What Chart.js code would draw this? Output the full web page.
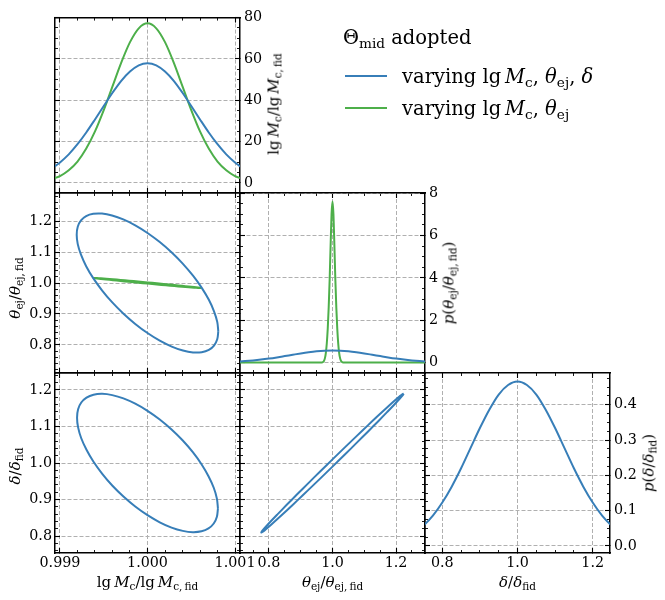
<!DOCTYPE html>
<html><head><meta charset="utf-8">
<script src="https://cdn.jsdelivr.net/npm/chart.js@4.4.0/dist/chart.umd.min.js"></script>
<style>
body{margin:0;background:#fff;}
#wrap{position:relative;width:665px;height:600px;overflow:hidden;font-family:'DejaVu Serif';color:#000;}
canvas{position:absolute;left:0;top:0;}
.t{position:absolute;white-space:nowrap;font-size:15px;line-height:1;transform:translate(-50%,-50%);}
.r{transform:translate(-50%,-50%) rotate(-90deg);}
.lg{position:absolute;white-space:nowrap;font-size:19.5px;line-height:1;transform:translateY(-50%);}
.sw{position:absolute;width:42px;height:2px;}
i{font-style:italic;}
sub{font-size:70%;vertical-align:-0.3em;line-height:0;}
</style></head>
<body>
<div id="wrap">
<canvas id="c0" width="665" height="600"></canvas>
<canvas id="c1" width="665" height="600"></canvas>
<canvas id="c2" width="665" height="600"></canvas>
<canvas id="c3" width="665" height="600"></canvas>
<canvas id="c4" width="665" height="600"></canvas>
<canvas id="c5" width="665" height="600"></canvas>

<div class="t r" style="left:274px;top:104px">lg&#8201;<i>M</i><sub>c</sub>/lg&#8201;<i>M</i><sub>c,&#8201;fid</sub></div>
<div class="t r" style="left:14.5px;top:288px"><i>θ</i><sub>ej</sub>/<i>θ</i><sub>ej,&#8201;fid</sub></div>
<div class="t r" style="left:449px;top:283px"><i>p</i>(<i>θ</i><sub>ej</sub>/<i>θ</i><sub>ej,&#8201;fid</sub>)</div>
<div class="t r" style="left:14.5px;top:466px"><i>δ</i>/<i>δ</i><sub>fid</sub></div>
<div class="t r" style="left:649px;top:463px"><i>p</i>(<i>δ</i>/<i>δ</i><sub>fid</sub>)</div>
<div class="t" style="left:147.5px;top:582px">lg&#8201;<i>M</i><sub>c</sub>/lg&#8201;<i>M</i><sub>c,&#8201;fid</sub></div>
<div class="t" style="left:332.5px;top:582px"><i>θ</i><sub>ej</sub>/<i>θ</i><sub>ej,&#8201;fid</sub></div>
<div class="t" style="left:517.5px;top:582px"><i>δ</i>/<i>δ</i><sub>fid</sub></div>

<div class="lg" style="left:343px;top:37.5px">Θ<sub>mid</sub> adopted</div>
<div class="sw" style="left:345px;top:75px;background:#377eb8"></div>
<div class="lg" style="left:402px;top:76.5px">varying lg&#8201;<i>M</i><sub>c</sub>, <i>θ</i><sub>ej</sub>, <i>δ</i></div>
<div class="sw" style="left:345px;top:107.3px;background:#4daf4a"></div>
<div class="lg" style="left:402px;top:108.8px">varying lg&#8201;<i>M</i><sub>c</sub>, <i>θ</i><sub>ej</sub></div>
</div>
<script>
// ---------------- data ----------------
// 1D marginal of lg Mc / lg Mc,fid
const mcGrid = [0.9989,0.9990,0.9991,0.9992,0.9993,0.9994,0.9995,0.9996,0.9997,0.9998,0.9999,1.0000,1.0001,1.0002,1.0003,1.0004,1.0005,1.0006,1.0007,1.0008,1.0009,1.0010,1.0011];
const mcPdfThree = [6.8,9.9,13.8,18.7,24.4,30.7,37.2,43.6,49.4,53.9,56.9,57.9,56.9,53.9,49.4,43.6,37.2,30.7,24.4,18.7,13.8,9.9,6.8];
const mcPdfTwo = [1.7,3.3,6.1,10.3,16.6,24.9,35.2,46.7,58.2,68.1,74.8,77.2,74.8,68.1,58.2,46.7,35.2,24.9,16.6,10.3,6.1,3.3,1.7];

// 1D marginal of theta_ej / theta_ej,fid
const thGrid = [0.700,0.725,0.750,0.775,0.800,0.825,0.850,0.875,0.900,0.925,0.950,0.975,1.000,1.025,1.050,1.075,1.100,1.125,1.150,1.175,1.200,1.225,1.250,1.275,1.300];
const thPdfThree = [0.048,0.072,0.103,0.142,0.190,0.246,0.308,0.371,0.433,0.488,0.532,0.560,0.570,0.560,0.532,0.488,0.433,0.371,0.308,0.246,0.190,0.142,0.103,0.072,0.048];
const thGridTwo = [0.700,0.960,0.965,0.970,0.973,0.976,0.979,0.982,0.985,0.988,0.991,0.994,0.997,1.000,1.003,1.006,1.009,1.012,1.015,1.018,1.021,1.024,1.027,1.030,1.035,1.040,1.300];
const thPdfTwo = [0,0,0.005,0.03,0.08,0.2,0.45,0.9,1.6,2.6,3.9,5.5,7.0,7.6,7.0,5.5,3.9,2.6,1.6,0.9,0.45,0.2,0.08,0.03,0.005,0,0];

// 1D marginal of delta / delta_fid
const dGrid = [0.725,0.750,0.775,0.800,0.825,0.850,0.875,0.900,0.925,0.950,0.975,1.000,1.025,1.050,1.075,1.100,1.125,1.150,1.175,1.200,1.225,1.250,1.275];
const dPdfThree = [0.037,0.058,0.086,0.123,0.168,0.220,0.277,0.334,0.386,0.429,0.456,0.466,0.456,0.429,0.386,0.334,0.277,0.220,0.168,0.123,0.086,0.058,0.037];

// contour: lg Mc vs theta (three parameters)
const e1Mc = [1.000809,1.000797,1.000760,1.000701,1.000620,1.000520,1.000405,1.000277,1.000140,1.000000,0.999860,0.999723,0.999595,0.999480,0.999380,0.999299,0.999240,0.999203,0.999191,0.999203,0.999240,0.999299,0.999380,0.999480,0.999595,0.999723,0.999860,1.000000,1.000140,1.000277,1.000405,1.000520,1.000620,1.000701,1.000760,1.000797];
const e1Th = [0.8437,0.8180,0.7978,0.7837,0.7762,0.7755,0.7817,0.7945,0.8135,0.8382,0.8677,0.9014,0.9380,0.9765,1.0157,1.0544,1.0915,1.1258,1.1563,1.1820,1.2022,1.2163,1.2238,1.2245,1.2183,1.2055,1.1865,1.1618,1.1323,1.0986,1.0620,1.0235,0.9843,0.9456,0.9085,0.8742];
// contour: lg Mc vs theta (two parameters)
const e4Mc = [1.000615,1.000606,1.000578,1.000533,1.000471,1.000395,1.000308,1.000210,1.000107,1.000000,0.999893,0.999790,0.999692,0.999605,0.999529,0.999467,0.999422,0.999394,0.999385,0.999394,0.999422,0.999467,0.999529,0.999605,0.999692,0.999790,0.999893,1.000000,1.000107,1.000210,1.000308,1.000395,1.000471,1.000533,1.000578,1.000606];
const e4Th = [0.9836,0.9835,0.9839,0.9848,0.9862,0.9879,0.9901,0.9925,0.9952,0.9980,1.0009,1.0037,1.0065,1.0090,1.0113,1.0132,1.0147,1.0158,1.0164,1.0165,1.0161,1.0152,1.0138,1.0121,1.0099,1.0075,1.0048,1.0020,0.9991,0.9963,0.9935,0.9910,0.9887,0.9868,0.9853,0.9842];
// contour: lg Mc vs delta
const e2Mc = [1.000805,1.000793,1.000757,1.000697,1.000617,1.000518,1.000403,1.000275,1.000140,1.000000,0.999860,0.999725,0.999597,0.999483,0.999383,0.999303,0.999243,0.999207,0.999195,0.999207,0.999243,0.999303,0.999383,0.999483,0.999597,0.999725,0.999860,1.000000,1.000140,1.000275,1.000403,1.000518,1.000617,1.000697,1.000757,1.000793];
const e2D = [0.8760,0.8531,0.8347,0.8213,0.8133,0.8110,0.8145,0.8235,0.8380,0.8574,0.8811,0.9084,0.9385,0.9704,1.0033,1.0361,1.0677,1.0973,1.1240,1.1469,1.1653,1.1787,1.1867,1.1890,1.1855,1.1765,1.1620,1.1426,1.1189,1.0916,1.0615,1.0296,0.9967,0.9639,0.9323,0.9027];
// contour: theta vs delta
const e3Th = [1.2240,1.2206,1.2105,1.1940,1.1716,1.1440,1.1120,1.0766,1.0389,1.0000,0.9611,0.9234,0.8880,0.8560,0.8284,0.8060,0.7895,0.7794,0.7760,0.7794,0.7895,0.8060,0.8284,0.8560,0.8880,0.9234,0.9611,1.0000,1.0389,1.0766,1.1120,1.1440,1.1716,1.1940,1.2105,1.2206];
const e3D = [1.1897,1.1851,1.1749,1.1593,1.1390,1.1143,1.0863,1.0556,1.0232,0.9901,0.9573,0.9258,0.8965,0.8704,0.8483,0.8307,0.8183,0.8114,0.8103,0.8149,0.8251,0.8407,0.8610,0.8857,0.9137,0.9444,0.9768,1.0099,1.0427,1.0742,1.1035,1.1296,1.1517,1.1693,1.1817,1.1886];

// tick labels
const mcTicks = [0.999, 1.000, 1.001];
const thTicksY = [0.8, 0.9, 1.0, 1.1, 1.2];
const thTicksX = [0.8, 1.0, 1.2];
const dTicksY = [0.8, 0.9, 1.0, 1.1, 1.2];
const dTicksX = [0.8, 1.0, 1.2];
const pMcTicks = [0, 20, 40, 60, 80];
const pThTicks = [0, 2, 4, 6, 8];
const pDTicks = [0.0, 0.1, 0.2, 0.3, 0.4];

// ---------------- styling / layout ----------------
const BLUE = '#377eb8', GREEN = '#4daf4a', GRID = '#b0b0b0', FONT = 'DejaVu Serif';
const COLS = [55, 240, 425], ROWS = [13, 193, 373], PW = 185, PH = 180;
const LAB_W = 45, LAB_H = 30;   // box reserved for tick labels

const R_MC = {min: 0.998943, max: 1.001057, ticks: mcTicks, minor: 0.0002, fmt: v => v.toFixed(3)};
const R_THY = {min: 0.709, max: 1.291, ticks: thTicksY, minor: 0.02, fmt: v => v.toFixed(1)};
const R_THX = {min: 0.709, max: 1.291, ticks: thTicksX, minor: 0.05, fmt: v => v.toFixed(1)};
const R_DY = {min: 0.754, max: 1.246, ticks: dTicksY, minor: 0.02, fmt: v => v.toFixed(1)};
const R_DX = {min: 0.754, max: 1.246, ticks: dTicksX, minor: 0.05, fmt: v => v.toFixed(1)};
const R_PMC = {min: -4.9, max: 80, ticks: pMcTicks, minor: 5, fmt: v => String(Math.round(v))};
const R_PTH = {min: -0.49, max: 8.0, ticks: pThTicks, minor: 0.5, fmt: v => String(Math.round(v))};
const R_PD = {min: -0.02, max: 0.49, ticks: pDTicks, minor: 0.025, fmt: v => v.toFixed(1)};

function pts(xs, ys, close) {
  const a = xs.map((x, i) => ({x: x, y: ys[i]}));
  if (close) a.push({x: xs[0], y: ys[0]});
  return a;
}
function curve(xs, ys, color) {
  return {data: pts(xs, ys, false), borderColor: color, borderWidth: 2, pointRadius: 0, fill: false,
          cubicInterpolationMode: 'monotone', clip: 0};
}
function loop(xs, ys, color) {
  return {data: pts(xs, ys, true), borderColor: color, borderWidth: 2, pointRadius: 0, fill: false,
          tension: 0.33, clip: 0};
}

function ax(dir, pos, r, major, labels, grid) {
  const size = labels ? (dir === 'x' ? LAB_H : LAB_W) : 0;
  const o = {
    type: 'linear', axis: dir, position: pos, min: r.min, max: r.max,
    weight: labels ? 10 : (major ? 1 : 0),
    afterFit: s => { if (dir === 'x') s.height = size; else s.width = size; },
    ticks: {
      display: labels, autoSkip: false, includeBounds: false, maxRotation: 0, minRotation: 0,
      maxTicksLimit: 1000, color: '#000', font: {family: FONT, size: 14.3},
      padding: dir === 'x' ? 6.6 : (pos === 'left' ? 8 : 9),
      callback: v => r.fmt(v)
    },
    grid: {
      display: true, drawOnChartArea: grid, drawTicks: true,
      tickLength: major ? -5 : -3, tickColor: '#000', tickWidth: major ? 1.1 : 0.9,
      color: GRID, lineWidth: 1
    },
    border: {display: major, color: '#000', width: 1.5, dash: [4, 2]}
  };
  if (major) o.afterBuildTicks = s => { s.ticks = r.ticks.map(v => ({value: v})); };
  else o.ticks.stepSize = r.minor;
  return o;
}

function panel(id, row, col, datasets, xr, yr, xLab, yLab) {
  const pad = {left: COLS[col], top: ROWS[row], right: 665 - COLS[col] - PW, bottom: 600 - ROWS[row] - PH};
  if (xLab) pad.bottom -= LAB_H;
  if (yLab === 'left') pad.left -= LAB_W;
  if (yLab === 'right') pad.right -= LAB_W;
  new Chart(document.getElementById(id), {
    type: 'line',
    data: {datasets: datasets},
    options: {
      responsive: false, animation: false, devicePixelRatio: 1, events: [],
      layout: {padding: pad, autoPadding: false},
      plugins: {legend: {display: false}, tooltip: {enabled: false}},
      scales: {
        x:   ax('x', 'bottom', xr, true, xLab, true),
        x2:  ax('x', 'top', xr, true, false, false),
        xm:  ax('x', 'bottom', xr, false, false, false),
        xm2: ax('x', 'top', xr, false, false, false),
        y:   ax('y', 'left', yr, true, yLab === 'left', true),
        y2:  ax('y', 'right', yr, true, yLab === 'right', false),
        ym:  ax('y', 'left', yr, false, false, false),
        ym2: ax('y', 'right', yr, false, false, false)
      }
    }
  });
}

// top-left: lg Mc marginal
panel('c0', 0, 0, [curve(mcGrid, mcPdfThree, BLUE), curve(mcGrid, mcPdfTwo, GREEN)], R_MC, R_PMC, false, 'right');
// middle-left: lg Mc vs theta
panel('c1', 1, 0, [loop(e1Mc, e1Th, BLUE), loop(e4Mc, e4Th, GREEN)], R_MC, R_THY, false, 'left');
// middle-middle: theta marginal
panel('c2', 1, 1, [curve(thGrid, thPdfThree, BLUE), curve(thGridTwo, thPdfTwo, GREEN)], R_THX, R_PTH, false, 'right');
// bottom-left: lg Mc vs delta
panel('c3', 2, 0, [loop(e2Mc, e2D, BLUE)], R_MC, R_DY, true, 'left');
// bottom-middle: theta vs delta
panel('c4', 2, 1, [loop(e3Th, e3D, BLUE)], R_THX, R_DY, true, null);
// bottom-right: delta marginal
panel('c5', 2, 2, [curve(dGrid, dPdfThree, BLUE)], R_DX, R_PD, true, 'right');
</script>
</body></html>
